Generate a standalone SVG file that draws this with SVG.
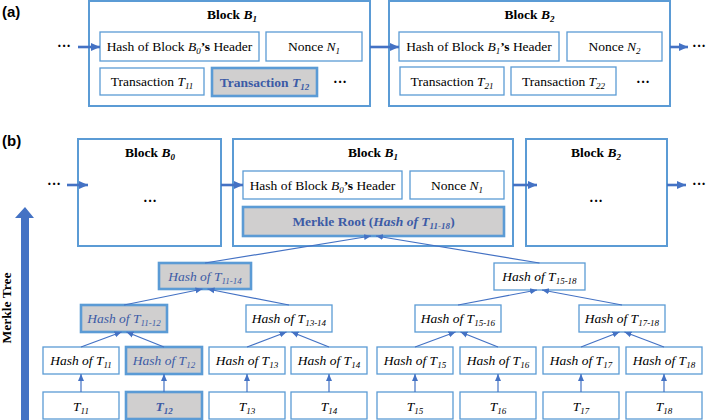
<svg xmlns="http://www.w3.org/2000/svg" width="711" height="420" viewBox="0 0 711 420">
<style>
.blk{fill:#fff;stroke:#5B9BD5;stroke-width:2}
.box{fill:#fff;stroke:#5B9BD5;stroke-width:1.3}
.hl{fill:#D0CFCF;stroke:#5B9BD5;stroke-width:2.6}
.t{font-family:'Liberation Serif','Times New Roman','DejaVu Serif',serif;font-size:13.5px;text-anchor:middle;fill:#000}
.b{font-weight:bold}
.i{font-style:italic}
.blue{fill:#3C5BA6}
.lbl{font-family:'Liberation Sans',Arial,sans-serif;font-size:15px;font-weight:bold;fill:#000}
.dots{font-family:'Liberation Serif','Times New Roman',serif;font-size:14px;font-weight:bold;text-anchor:middle;fill:#000}
.c{stroke:#4472C4;stroke-width:1.2;fill:none;marker-end:url(#ah)}
.cb{stroke:#4472C4;stroke-width:2.6;fill:none;marker-end:url(#ahb)}
</style>
<defs>
<marker id="ah" markerUnits="userSpaceOnUse" markerWidth="8" markerHeight="8" viewBox="0 0 8 8" refX="7" refY="4" orient="auto">
<path d="M0,1 L7,4 L0,7 Z" fill="#4472C4"/>
</marker>
<marker id="ahb" markerUnits="userSpaceOnUse" markerWidth="10" markerHeight="10" viewBox="0 0 10 10" refX="9" refY="5" orient="auto">
<path d="M0,1 L9,5 L0,9 Z" fill="#4472C4"/>
</marker>
</defs>

<text class="lbl" x="2" y="17">(a)</text>
<text class="lbl" x="2" y="146">(b)</text>

<g font-family="'Liberation Serif', 'Times New Roman', serif">
<!-- Part (a) -->
<g id="a-left-dots"><text class="dots" x="64" y="51">···</text></g>
<g id="a-block1">
<rect class="blk" x="89" y="1" width="281" height="105"/>
<text class="t b" x="232" y="19">Block <tspan class="i">B</tspan><tspan class="i" font-size="9" dy="3">1</tspan></text>
</g>
<g id="a-b1-hash">
<rect class="box" x="100" y="32" width="159" height="29"/>
<text class="t" x="179.5" y="51">Hash of Block <tspan class="i">B</tspan><tspan class="i" font-size="9" dy="3">0</tspan><tspan class="b" dy="-3">’s</tspan> Header</text>
</g>
<g id="a-b1-nonce">
<rect class="box" x="266" y="32" width="96" height="29"/>
<text class="t" x="314" y="51">Nonce <tspan class="i">N</tspan><tspan class="i" font-size="9" dy="3">1</tspan></text>
</g>
<g id="a-t11">
<rect class="box" x="100" y="68" width="104" height="27"/>
<text class="t" x="152" y="86">Transaction <tspan class="i">T</tspan><tspan class="i" font-size="9" dy="3">11</tspan></text>
</g>
<g id="a-t12">
<rect class="hl" x="212" y="68" width="105" height="28"/>
<text class="t b blue" x="264.5" y="87">Transaction <tspan class="i">T</tspan><tspan class="i" font-size="9" dy="3">12</tspan></text>
</g>
<g id="a-b1-dots"><text class="dots" x="340" y="87">···</text></g>

<g id="a-block2">
<rect class="blk" x="389" y="1" width="281" height="105"/>
<text class="t b" x="529.5" y="19">Block <tspan class="i">B</tspan><tspan class="i" font-size="9" dy="3">2</tspan></text>
</g>
<g id="a-b2-hash">
<rect class="box" x="399" y="32" width="160" height="29"/>
<text class="t" x="479" y="51">Hash of Block <tspan class="i">B</tspan><tspan class="i" font-size="9" dy="3">1</tspan><tspan class="b" dy="-3">’s</tspan> Header</text>
</g>
<g id="a-b2-nonce">
<rect class="box" x="567" y="32" width="95" height="29"/>
<text class="t" x="614.5" y="51">Nonce <tspan class="i">N</tspan><tspan class="i" font-size="9" dy="3">2</tspan></text>
</g>
<g id="a-t21">
<rect class="box" x="400" y="67" width="104" height="28"/>
<text class="t" x="452" y="86">Transaction <tspan class="i">T</tspan><tspan class="i" font-size="9" dy="3">21</tspan></text>
</g>
<g id="a-t22">
<rect class="box" x="511" y="67" width="105" height="28"/>
<text class="t" x="563.5" y="86">Transaction <tspan class="i">T</tspan><tspan class="i" font-size="9" dy="3">22</tspan></text>
</g>
<g id="a-b2-dots"><text class="dots" x="643" y="87">···</text></g>
<g id="a-right-dots"><text class="dots" x="699" y="51">···</text></g>

<!-- Part (b) -->
<g id="merkle-arrow">
<path d="M21,420 L21,218 L15,218 L25,207 L34,218 L29,218 L29,420 Z" fill="#4472C4"/>
<text class="t b" transform="translate(11,308) rotate(-90)" x="0" y="0" font-size="13">Merkle Tree</text>
</g>
<g id="b-left-dots"><text class="dots" x="54" y="189">···</text></g>
<g id="b-block0">
<rect class="blk" x="78" y="139" width="143" height="107"/>
<text class="t b" x="150" y="157">Block <tspan class="i">B</tspan><tspan class="i" font-size="9" dy="3">0</tspan></text>
<text class="dots" x="150" y="206">···</text>
</g>
<g id="b-block1">
<rect class="blk" x="233" y="139" width="280" height="107"/>
<text class="t b" x="373" y="157">Block <tspan class="i">B</tspan><tspan class="i" font-size="9" dy="3">1</tspan></text>
</g>
<g id="b-b1-hash">
<rect class="box" x="243" y="171" width="159" height="28"/>
<text class="t" x="322.5" y="190">Hash of Block <tspan class="i">B</tspan><tspan class="i" font-size="9" dy="3">0</tspan><tspan class="b" dy="-3">’s</tspan> Header</text>
</g>
<g id="b-b1-nonce">
<rect class="box" x="410" y="171" width="94" height="28"/>
<text class="t" x="457" y="190">Nonce <tspan class="i">N</tspan><tspan class="i" font-size="9" dy="3">1</tspan></text>
</g>
<g id="b-merkle-root">
<rect class="hl" x="243" y="207" width="261" height="29"/>
<text class="t b blue" x="373.5" y="226">Merkle Root (<tspan class="i">Hash of T</tspan><tspan class="i" font-size="9" dy="3">11-18</tspan><tspan dy="-3">)</tspan></text>
</g>
<g id="b-block2">
<rect class="blk" x="526" y="139" width="141" height="107"/>
<text class="t b" x="596" y="157">Block <tspan class="i">B</tspan><tspan class="i" font-size="9" dy="3">2</tspan></text>
<text class="dots" x="596" y="206">···</text>
</g>
<g id="b-right-dots"><text class="dots" x="699" y="189">···</text></g>

<!-- Tree level 2 -->
<g id="h11-14">
<rect class="hl" x="159" y="263" width="92" height="26"/>
<text class="t i blue" x="205" y="281">Hash of T<tspan font-size="9" dy="3">11-14</tspan></text>
</g>
<g id="h15-18">
<rect class="box" x="494" y="263" width="91" height="27"/>
<text class="t i" x="539.5" y="281">Hash of T<tspan font-size="9" dy="3">15-18</tspan></text>
</g>
<!-- Tree level 1 -->
<g id="h11-12">
<rect class="hl" x="81" y="305" width="86" height="27"/>
<text class="t i blue" x="124" y="323">Hash of T<tspan font-size="9" dy="3">11-12</tspan></text>
</g>
<g id="h13-14">
<rect class="box" x="246" y="305" width="86" height="27"/>
<text class="t i" x="289" y="323">Hash of T<tspan font-size="9" dy="3">13-14</tspan></text>
</g>
<g id="h15-16">
<rect class="box" x="415" y="305" width="86" height="27"/>
<text class="t i" x="458" y="323">Hash of T<tspan font-size="9" dy="3">15-16</tspan></text>
</g>
<g id="h17-18">
<rect class="box" x="579" y="305" width="86" height="27"/>
<text class="t i" x="622" y="323">Hash of T<tspan font-size="9" dy="3">17-18</tspan></text>
</g>
<!-- Leaf hashes -->
<g id="h11"><rect class="box" x="43" y="347" width="76" height="27"/><text class="t i" x="81" y="365">Hash of T<tspan font-size="9" dy="3">11</tspan></text></g>
<g id="h12"><rect class="hl" x="126" y="347" width="76" height="27"/><text class="t i blue" x="164" y="365">Hash of T<tspan font-size="9" dy="3">12</tspan></text></g>
<g id="h13"><rect class="box" x="209" y="347" width="76" height="27"/><text class="t i" x="247" y="365">Hash of T<tspan font-size="9" dy="3">13</tspan></text></g>
<g id="h14"><rect class="box" x="291" y="347" width="76" height="27"/><text class="t i" x="329" y="365">Hash of T<tspan font-size="9" dy="3">14</tspan></text></g>
<g id="h15"><rect class="box" x="377" y="347" width="76" height="27"/><text class="t i" x="415" y="365">Hash of T<tspan font-size="9" dy="3">15</tspan></text></g>
<g id="h16"><rect class="box" x="460" y="347" width="76" height="27"/><text class="t i" x="498" y="365">Hash of T<tspan font-size="9" dy="3">16</tspan></text></g>
<g id="h17"><rect class="box" x="543" y="347" width="76" height="27"/><text class="t i" x="581" y="365">Hash of T<tspan font-size="9" dy="3">17</tspan></text></g>
<g id="h18"><rect class="box" x="626" y="347" width="76" height="27"/><text class="t i" x="664" y="365">Hash of T<tspan font-size="9" dy="3">18</tspan></text></g>
<!-- Transactions -->
<g id="t11"><rect class="box" x="43" y="392" width="76" height="27"/><text class="t i" x="81" y="411">T<tspan font-size="9" dy="3">11</tspan></text></g>
<g id="t12"><rect class="hl" x="126" y="392" width="76" height="27"/><text class="t i b blue" x="164" y="411">T<tspan font-size="9" dy="3">12</tspan></text></g>
<g id="t13"><rect class="box" x="209" y="392" width="76" height="27"/><text class="t i" x="247" y="411">T<tspan font-size="9" dy="3">13</tspan></text></g>
<g id="t14"><rect class="box" x="291" y="392" width="76" height="27"/><text class="t i" x="329" y="411">T<tspan font-size="9" dy="3">14</tspan></text></g>
<g id="t15"><rect class="box" x="377" y="392" width="76" height="27"/><text class="t i" x="415" y="411">T<tspan font-size="9" dy="3">15</tspan></text></g>
<g id="t16"><rect class="box" x="460" y="392" width="76" height="27"/><text class="t i" x="498" y="411">T<tspan font-size="9" dy="3">16</tspan></text></g>
<g id="t17"><rect class="box" x="543" y="392" width="76" height="27"/><text class="t i" x="581" y="411">T<tspan font-size="9" dy="3">17</tspan></text></g>
<g id="t18"><rect class="box" x="626" y="392" width="76" height="27"/><text class="t i" x="664" y="411">T<tspan font-size="9" dy="3">18</tspan></text></g>
</g>

<g id="connectors">
<!-- part (a) chain -->
<line class="cb" x1="78" y1="47" x2="100" y2="47"/>
<line class="cb" x1="370" y1="47" x2="399" y2="47"/>
<line class="cb" x1="670" y1="47" x2="688" y2="47"/>
<!-- part (b) chain -->
<line class="cb" x1="67" y1="185" x2="88" y2="185"/>
<line class="cb" x1="221" y1="185" x2="243" y2="185"/>
<line class="cb" x1="513" y1="185" x2="537" y2="185"/>
<line class="cb" x1="667" y1="185" x2="686" y2="185"/>
<!-- tx to leaf hash -->
<line class="c" x1="81" y1="392" x2="81" y2="374"/>
<line class="c" x1="164" y1="392" x2="164" y2="374"/>
<line class="c" x1="247" y1="392" x2="247" y2="374"/>
<line class="c" x1="329" y1="392" x2="329" y2="374"/>
<line class="c" x1="415" y1="392" x2="415" y2="374"/>
<line class="c" x1="498" y1="392" x2="498" y2="374"/>
<line class="c" x1="581" y1="392" x2="581" y2="374"/>
<line class="c" x1="664" y1="392" x2="664" y2="374"/>
<!-- leaf to level1 -->
<line class="c" x1="81" y1="347" x2="121.5" y2="332"/>
<line class="c" x1="164" y1="347" x2="126.5" y2="332"/>
<line class="c" x1="247" y1="347" x2="286.5" y2="332"/>
<line class="c" x1="329" y1="347" x2="291.5" y2="332"/>
<line class="c" x1="415" y1="347" x2="455.5" y2="332"/>
<line class="c" x1="498" y1="347" x2="460.5" y2="332"/>
<line class="c" x1="581" y1="347" x2="619.5" y2="332"/>
<line class="c" x1="664" y1="347" x2="624.5" y2="332"/>
<!-- level1 to level2 -->
<line class="c" x1="124" y1="305" x2="202.5" y2="289"/>
<line class="c" x1="289" y1="305" x2="207.5" y2="289"/>
<line class="c" x1="458" y1="305" x2="537" y2="290"/>
<line class="c" x1="622" y1="305" x2="542" y2="290"/>
<!-- level2 to root -->
<line class="c" x1="205" y1="263" x2="371" y2="236"/>
<line class="c" x1="539.5" y1="263" x2="376" y2="236"/>
</g>
</svg>
